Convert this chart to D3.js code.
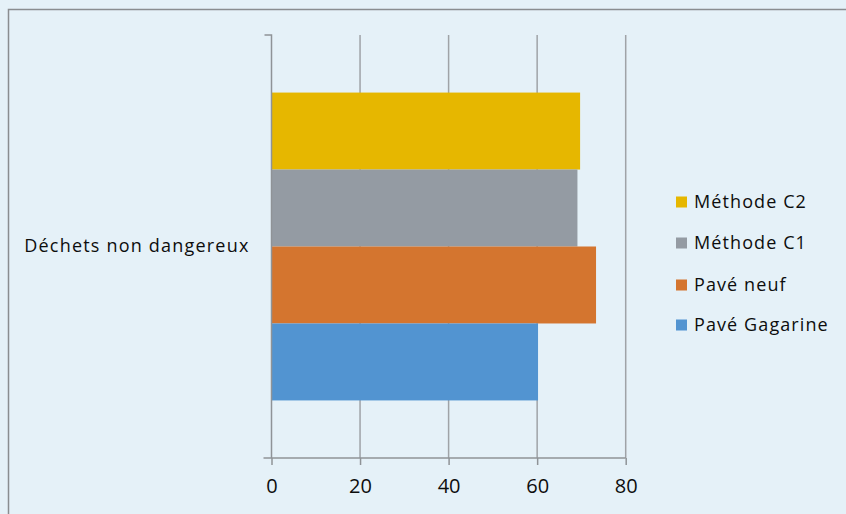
<!DOCTYPE html>
<html>
<head>
<meta charset="utf-8">
<script src="https://cdn.jsdelivr.net/npm/d3@7/dist/d3.min.js"></script>
<style>
  html, body { margin: 0; padding: 0; background: #e5f1f8; }
  svg { display: block; }
  text { font-family: "Open Sans", sans-serif; fill: #0d0d0d; }
</style>
</head>
<body>
<svg id="chart" width="846" height="514"></svg>
<script>
// Single category, four series (drawn top to bottom)
const categories = ["Déchets non dangereux"];
const seriesNames = ["Méthode C2", "Méthode C1", "Pavé neuf", "Pavé Gagarine"];
const seriesValues = [69.7, 69.1, 73.3, 60.2];
const seriesColors = ["#e6b700", "#949ba3", "#d4752f", "#5294d1"];
const xTicks = [0, 20, 40, 60, 80];

const svg = d3.select("#chart");
const FONT = "'Open Sans', sans-serif";

// outer frame
svg.append("rect")
  .attr("x", 8.5).attr("y", 9.5)
  .attr("width", 900).attr("height", 600)
  .attr("fill", "#e5f1f8")
  .attr("stroke", "#8a8d90").attr("stroke-width", 1.5);

const plot = { left: 271.5, right: 625.7, top: 35, bottom: 458 };

const x = d3.scaleLinear().domain([0, 80]).range([plot.left, plot.right]);
const y = d3.scaleBand().domain(categories).range([plot.top, plot.bottom]).paddingInner(0).paddingOuter(0.187);
const ySeries = d3.scaleBand().domain(seriesNames).range([0, y.bandwidth()]);

// vertical gridlines
svg.append("g")
  .selectAll("line")
  .data(xTicks.slice(1))
  .join("line")
  .attr("x1", d => x(d)).attr("x2", d => x(d))
  .attr("y1", plot.top).attr("y2", plot.bottom)
  .attr("stroke", "#9fa3a7").attr("stroke-width", 1.5);

// bars
const rows = seriesNames.map((s, i) => ({ name: s, value: seriesValues[i], color: seriesColors[i] }));
svg.append("g")
  .selectAll("rect")
  .data(rows)
  .join("rect")
  .attr("x", x(0))
  .attr("y", d => y(categories[0]) + ySeries(d.name))
  .attr("width", d => x(d.value) - x(0))
  .attr("height", ySeries.bandwidth())
  .attr("fill", d => d.color);

// x axis
const xAxis = svg.append("g")
  .attr("transform", `translate(0,${plot.bottom})`)
  .call(d3.axisBottom(x).tickValues(xTicks).tickSize(7).tickSizeOuter(0).tickPadding(14));
xAxis.select(".domain").remove();
xAxis.append("line")
  .attr("x1", plot.left - 8).attr("x2", plot.right)
  .attr("stroke", "#8f9397").attr("stroke-width", 1.5);
xAxis.selectAll(".tick line").attr("stroke", "#8f9397").attr("stroke-width", 1.5);
xAxis.selectAll(".tick text")
  .attr("font-size", 20).attr("font-family", FONT).attr("fill", "#0d0d0d");

// y axis
const yAxis = svg.append("g")
  .attr("transform", `translate(${plot.left},0)`)
  .call(d3.axisLeft(y).tickSize(0).tickPadding(22));
yAxis.select(".domain")
  .attr("stroke", "#8f9397").attr("stroke-width", 1.5)
  .attr("d", `M-7,${plot.top}H0V${plot.bottom}`);
yAxis.selectAll(".tick text")
  .attr("font-size", 18).attr("font-family", FONT).attr("fill", "#0d0d0d")
  .attr("letter-spacing", 1.2);

// legend
const legend = svg.append("g").attr("transform", "translate(676,0)");
const legendY = [202, 243, 285, 325];
const lg = legend.selectAll("g")
  .data(rows)
  .join("g")
  .attr("transform", (d, i) => `translate(0,${legendY[i]})`);
lg.append("rect")
  .attr("x", 0).attr("y", -5.5).attr("width", 11).attr("height", 11)
  .attr("fill", d => d.color);
lg.append("text")
  .attr("x", 18).attr("y", 0).attr("dy", "0.35em")
  .attr("font-size", 18)
  .attr("letter-spacing", 1.1)
  .text(d => d.name);
</script>
</body>
</html>
